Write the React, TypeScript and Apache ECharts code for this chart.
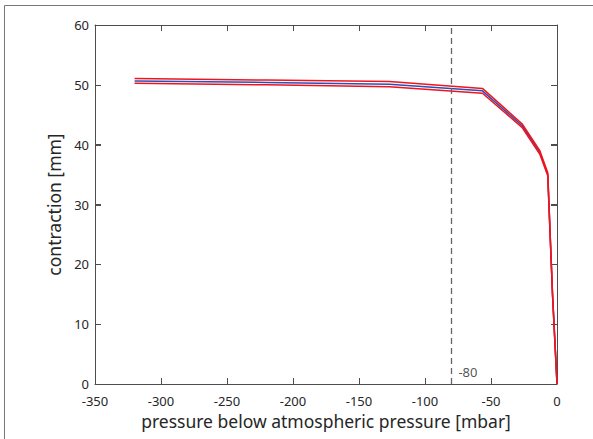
import React, { useEffect, useRef } from "react";
import * as echarts from "echarts";

const pressure = [-320, -220, -127, -56.5, -26.5, -13, -7, -5.2, -3.4, 0];
const contractionMean = [50.65, 50.4, 50.1, 49.0, 43.2, 38.7, 35.0, 25.0, 15.0, 0];
const contractionUpper = [51.05, 50.8, 50.55, 49.4, 43.5, 39.0, 35.3, 25.2, 15.1, 0.2];
const contractionLower = [50.25, 50.0, 49.7, 48.6, 42.9, 38.4, 34.8, 24.8, 14.9, 0];
const thresholdPressure = -80;
const thresholdLabel = "-80";

const xMin = -350;
const xMax = 0;
const yMin = 0;
const yMax = 60;
const xTicks = [-350, -300, -250, -200, -150, -100, -50, 0];
const yTicks = [0, 10, 20, 30, 40, 50, 60];

const xTitle = "pressure below atmospheric pressure [mbar]";
const yTitle = "contraction [mm]";

const FONT = "'Noto Sans', sans-serif";
const AXIS_COLOR = "#4d4d4d";
const TEXT_COLOR = "#262626";
const TICK_LEN = 6;

export default function App() {
  const ref = useRef<HTMLDivElement>(null);
  useEffect(() => {
    if (!ref.current) return;
    const chart = echarts.init(ref.current, undefined, { renderer: "svg" });
    const zip = (ys: number[]) => pressure.map((p, i) => [p, ys[i]]);
    const mkLine = () => ({ show: true, onZero: false, lineStyle: { color: AXIS_COLOR, width: 1 } });
    const mkTick = () => ({ show: true, inside: true, length: TICK_LEN });
    const tickData = [
      ...xTicks.map((v) => [v, yMin, 0]),
      ...yTicks.map((v) => [xMin, v, 1]),
    ];
    const tickStyle = { stroke: AXIS_COLOR, lineWidth: 1 };
    chart.setOption({
      animation: false,
      backgroundColor: "#fff",
      graphic: [
        {
          type: "rect",
          shape: { x: 4.5, y: 5.5, width: 620, height: 460 },
          style: { fill: "none", stroke: "#777", lineWidth: 1 },
          silent: true,
        },
      ],
      grid: { left: 95, right: 36, top: 25, bottom: 55 },
      xAxis: [
        {
          type: "value",
          min: xMin,
          max: xMax,
          interval: 50,
          axisLine: mkLine(),
          axisTick: mkTick(),
          splitLine: { show: false },
          axisLabel: { color: TEXT_COLOR, fontSize: 13, margin: 10, fontFamily: FONT },
          name: xTitle,
          nameLocation: "middle",
          nameGap: 24,
          nameTextStyle: { color: TEXT_COLOR, fontSize: 17.5, fontFamily: FONT },
        },
        {
          type: "value",
          min: xMin,
          max: xMax,
          interval: 50,
          position: "top",
          axisLine: mkLine(),
          axisTick: mkTick(),
          splitLine: { show: false },
          axisLabel: { show: false },
        },
      ],
      yAxis: [
        {
          type: "value",
          min: yMin,
          max: yMax,
          interval: 10,
          axisLine: mkLine(),
          axisTick: mkTick(),
          splitLine: { show: false },
          axisLabel: { color: TEXT_COLOR, fontSize: 13, margin: 6, fontFamily: FONT },
          name: yTitle,
          nameLocation: "middle",
          nameGap: 32,
          nameTextStyle: { color: TEXT_COLOR, fontSize: 17.5, fontFamily: FONT },
        },
        {
          type: "value",
          min: yMin,
          max: yMax,
          interval: 10,
          position: "right",
          axisLine: mkLine(),
          axisTick: mkTick(),
          splitLine: { show: false },
          axisLabel: { show: false },
        },
      ],
      series: [
        {
          type: "custom",
          silent: true,
          clip: false,
          data: tickData,
          z: 1,
          renderItem: (_params: any, api: any) => {
            const kind = api.value(2);
            if (kind === 0) {
              const v = api.value(0);
              const b = api.coord([v, yMin]);
              const t = api.coord([v, yMax]);
              const x = Math.round(b[0]) + 0.5;
              return {
                type: "group",
                children: [
                  { type: "line", shape: { x1: x, y1: b[1], x2: x, y2: b[1] - TICK_LEN }, style: tickStyle },
                  { type: "line", shape: { x1: x, y1: t[1], x2: x, y2: t[1] + TICK_LEN }, style: tickStyle },
                ],
              };
            }
            const v = api.value(1);
            const l = api.coord([xMin, v]);
            const r = api.coord([xMax, v]);
            const y = Math.round(l[1]) + 0.5;
            return {
              type: "group",
              children: [
                { type: "line", shape: { x1: l[0], y1: y, x2: l[0] + TICK_LEN, y2: y }, style: tickStyle },
                { type: "line", shape: { x1: r[0], y1: y, x2: r[0] - TICK_LEN, y2: y }, style: tickStyle },
              ],
            };
          },
        },
        {
          type: "line",
          data: zip(contractionMean),
          symbol: "none",
          lineStyle: { color: "#2a4fb8", width: 1.5 },
          markLine: {
            silent: true,
            symbol: "none",
            label: { show: false },
            lineStyle: { color: "#666", width: 1.3, type: [6, 4] },
            data: [{ xAxis: thresholdPressure }],
          },
          z: 2,
        },
        {
          type: "line",
          data: zip(contractionUpper),
          symbol: "none",
          lineStyle: { color: "#f0141e", width: 1.5 },
          z: 3,
        },
        {
          type: "line",
          data: zip(contractionLower),
          symbol: "none",
          lineStyle: { color: "#f0141e", width: 1.5 },
          z: 3,
        },
        {
          type: "scatter",
          data: [[thresholdPressure, 0]],
          symbolSize: 0,
          silent: true,
          label: {
            show: true,
            position: "right",
            distance: 5,
            offset: [2, -12],
            formatter: () => thresholdLabel,
            color: TEXT_COLOR,
            fontSize: 13,
            fontFamily: FONT,
          },
          z: 4,
        },
      ],
    });
    return () => chart.dispose();
  }, []);
  return (
    <div
      ref={ref}
      style={{ position: "fixed", left: 0, top: 0, width: 593, height: 439 }}
    />
  );
}
